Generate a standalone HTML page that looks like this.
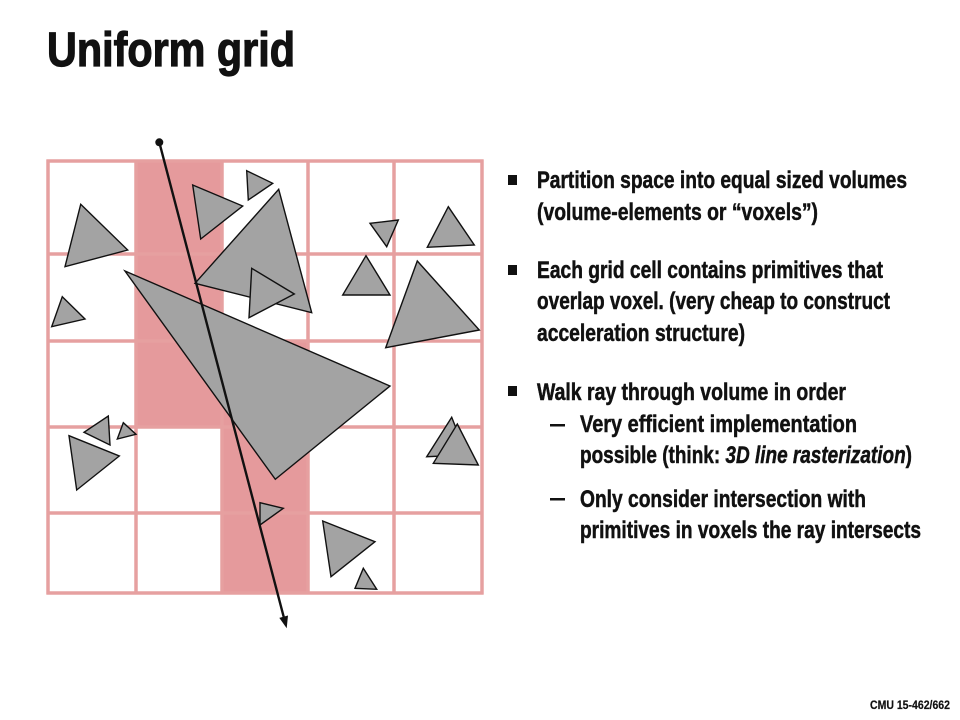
<!DOCTYPE html>
<html><head><meta charset="utf-8"><style>
html,body{margin:0;padding:0;background:#fff;width:960px;height:720px;overflow:hidden}
svg text{font-family:"Liberation Sans Narrow","Liberation Sans",sans-serif;font-weight:bold;fill:#111;stroke:#111;stroke-width:0.5}
</style></head><body>
<svg id="s" width="960" height="720" viewBox="0 0 960 720">
<text x="47" y="66" font-size="48" textLength="248" lengthAdjust="spacingAndGlyphs" style="stroke-width:1.2">Uniform grid</text>
<g id="grid"></g>
<g>
<rect x="508" y="175" width="9" height="10" fill="#111"/>
<text x="537" y="188" font-size="24" textLength="370" lengthAdjust="spacingAndGlyphs">Partition space into equal sized volumes</text>
<text x="537" y="220" font-size="24" textLength="281" lengthAdjust="spacingAndGlyphs">(volume-elements or “voxels”)</text>
<rect x="508" y="265" width="9" height="10" fill="#111"/>
<text x="537" y="278" font-size="24" textLength="346" lengthAdjust="spacingAndGlyphs">Each grid cell contains primitives that</text>
<text x="537" y="309" font-size="24" textLength="353" lengthAdjust="spacingAndGlyphs">overlap voxel. (very cheap to construct</text>
<text x="537" y="341" font-size="24" textLength="208" lengthAdjust="spacingAndGlyphs">acceleration structure)</text>
<rect x="508" y="386" width="9" height="10" fill="#111"/>
<text x="537" y="400" font-size="24" textLength="309" lengthAdjust="spacingAndGlyphs">Walk ray through volume in order</text>
<rect x="550" y="424" width="15" height="2.5" fill="#111"/>
<text x="580" y="432" font-size="24" textLength="277" lengthAdjust="spacingAndGlyphs">Very efficient implementation</text>
<text x="580" y="463" font-size="24" textLength="332" lengthAdjust="spacingAndGlyphs">possible (think: <tspan font-style="italic">3D line rasterization</tspan>)</text>
<rect x="550" y="498" width="15" height="2.5" fill="#111"/>
<text x="580" y="507" font-size="24" textLength="286" lengthAdjust="spacingAndGlyphs">Only consider intersection with</text>
<text x="580" y="538" font-size="24" textLength="341" lengthAdjust="spacingAndGlyphs">primitives in voxels the ray intersects</text>
</g>
<text x="870" y="709" font-size="12" textLength="80" lengthAdjust="spacingAndGlyphs" style="stroke-width:0.2">CMU 15-462/662</text>
</svg>
<script>
const colEdges=[48,136,222,308,394,482];
const rowEdges=[161,254,341,427,513,593];
const pinkCells=[[1,0],[1,1],[1,2],[2,2],[2,3],[2,4]];
const triangles=[
[[80.7,204.3],[127.7,250],[65,266.7]],
[[192.7,185],[242.7,206],[200.7,239]],
[[246.7,170.7],[272.7,183.3],[248.3,200]],
[[278.7,189.3],[311.7,312.7],[195,283.3]],
[[251.7,268.3],[294.3,294],[249,317.7]],
[[125,271],[390,386],[275.3,479.3]],
[[370,223.3],[398.3,220],[386.7,246.7]],
[[448.3,206.7],[474.3,245],[427.3,247.3]],
[[366,255.7],[390,295],[342.7,295]],
[[417.3,261],[479.3,330],[385.7,347.7]],
[[62.3,296.7],[85,319],[51.7,326.7]],
[[108.3,416],[110,445],[84,432.3]],
[[123.3,422.7],[136,434.3],[117.3,439]],
[[69,435.7],[119.3,456],[76.7,490]],
[[451.7,417.3],[466.7,455],[426.7,456.7]],
[[457.3,424],[478.3,465],[433.3,463.3]],
[[260,502.7],[283.3,508.3],[260,525]],
[[322.7,521],[375,541.7],[331,576.7]],
[[363.3,568.3],[376.7,589.3],[355,588.3]]
];
const rayStart=[159.3,142.3], rayEnd=[286.7,628.3];
const NS="http://www.w3.org/2000/svg";
const g=document.getElementById('grid');
function mk(t,a){const e=document.createElementNS(NS,t);for(const k in a)e.setAttribute(k,a[k]);g.appendChild(e);return e;}
pinkCells.forEach(([c,r])=>{
 const e=mk('rect',{x:colEdges[c],y:rowEdges[r],width:colEdges[c+1]-colEdges[c],height:rowEdges[r+1]-rowEdges[r],fill:'#e59a9c'});
 
 
});
colEdges.forEach(x=>{const e=mk('line',{x1:x,y1:rowEdges[0]-1.5,x2:x,y2:rowEdges[5]+1.5,stroke:'#e6a0a0','stroke-width':3.5});
 
 });
rowEdges.forEach(y=>{const e=mk('line',{x1:colEdges[0]-1.5,y1:y,x2:colEdges[5]+1.5,y2:y,stroke:'#e6a0a0','stroke-width':3.5});
 
 });
triangles.forEach(t=>{const e=mk('polygon',{points:t.map(p=>p.join(',')).join(' '),fill:'#a3a3a3',stroke:'#111','stroke-width':1.4,'stroke-linejoin':'miter'});
 
 });
const dx=rayEnd[0]-rayStart[0],dy=rayEnd[1]-rayStart[1],L=Math.hypot(dx,dy),ux=dx/L,uy=dy/L;
const ray=mk('line',{x1:rayStart[0],y1:rayStart[1],x2:rayEnd[0]-ux*8,y2:rayEnd[1]-uy*8,stroke:'#111','stroke-width':2.4});


const bx=rayEnd[0]-ux*12,by=rayEnd[1]-uy*12;
const head=mk('polygon',{points:`${rayEnd[0]},${rayEnd[1]} ${bx-uy*4.5},${by+ux*4.5} ${bx+uy*4.5},${by-ux*4.5}`,fill:'#111'});


const dot=mk('circle',{cx:rayStart[0],cy:rayStart[1],r:4,fill:'#111'});


</script>
</body></html>
